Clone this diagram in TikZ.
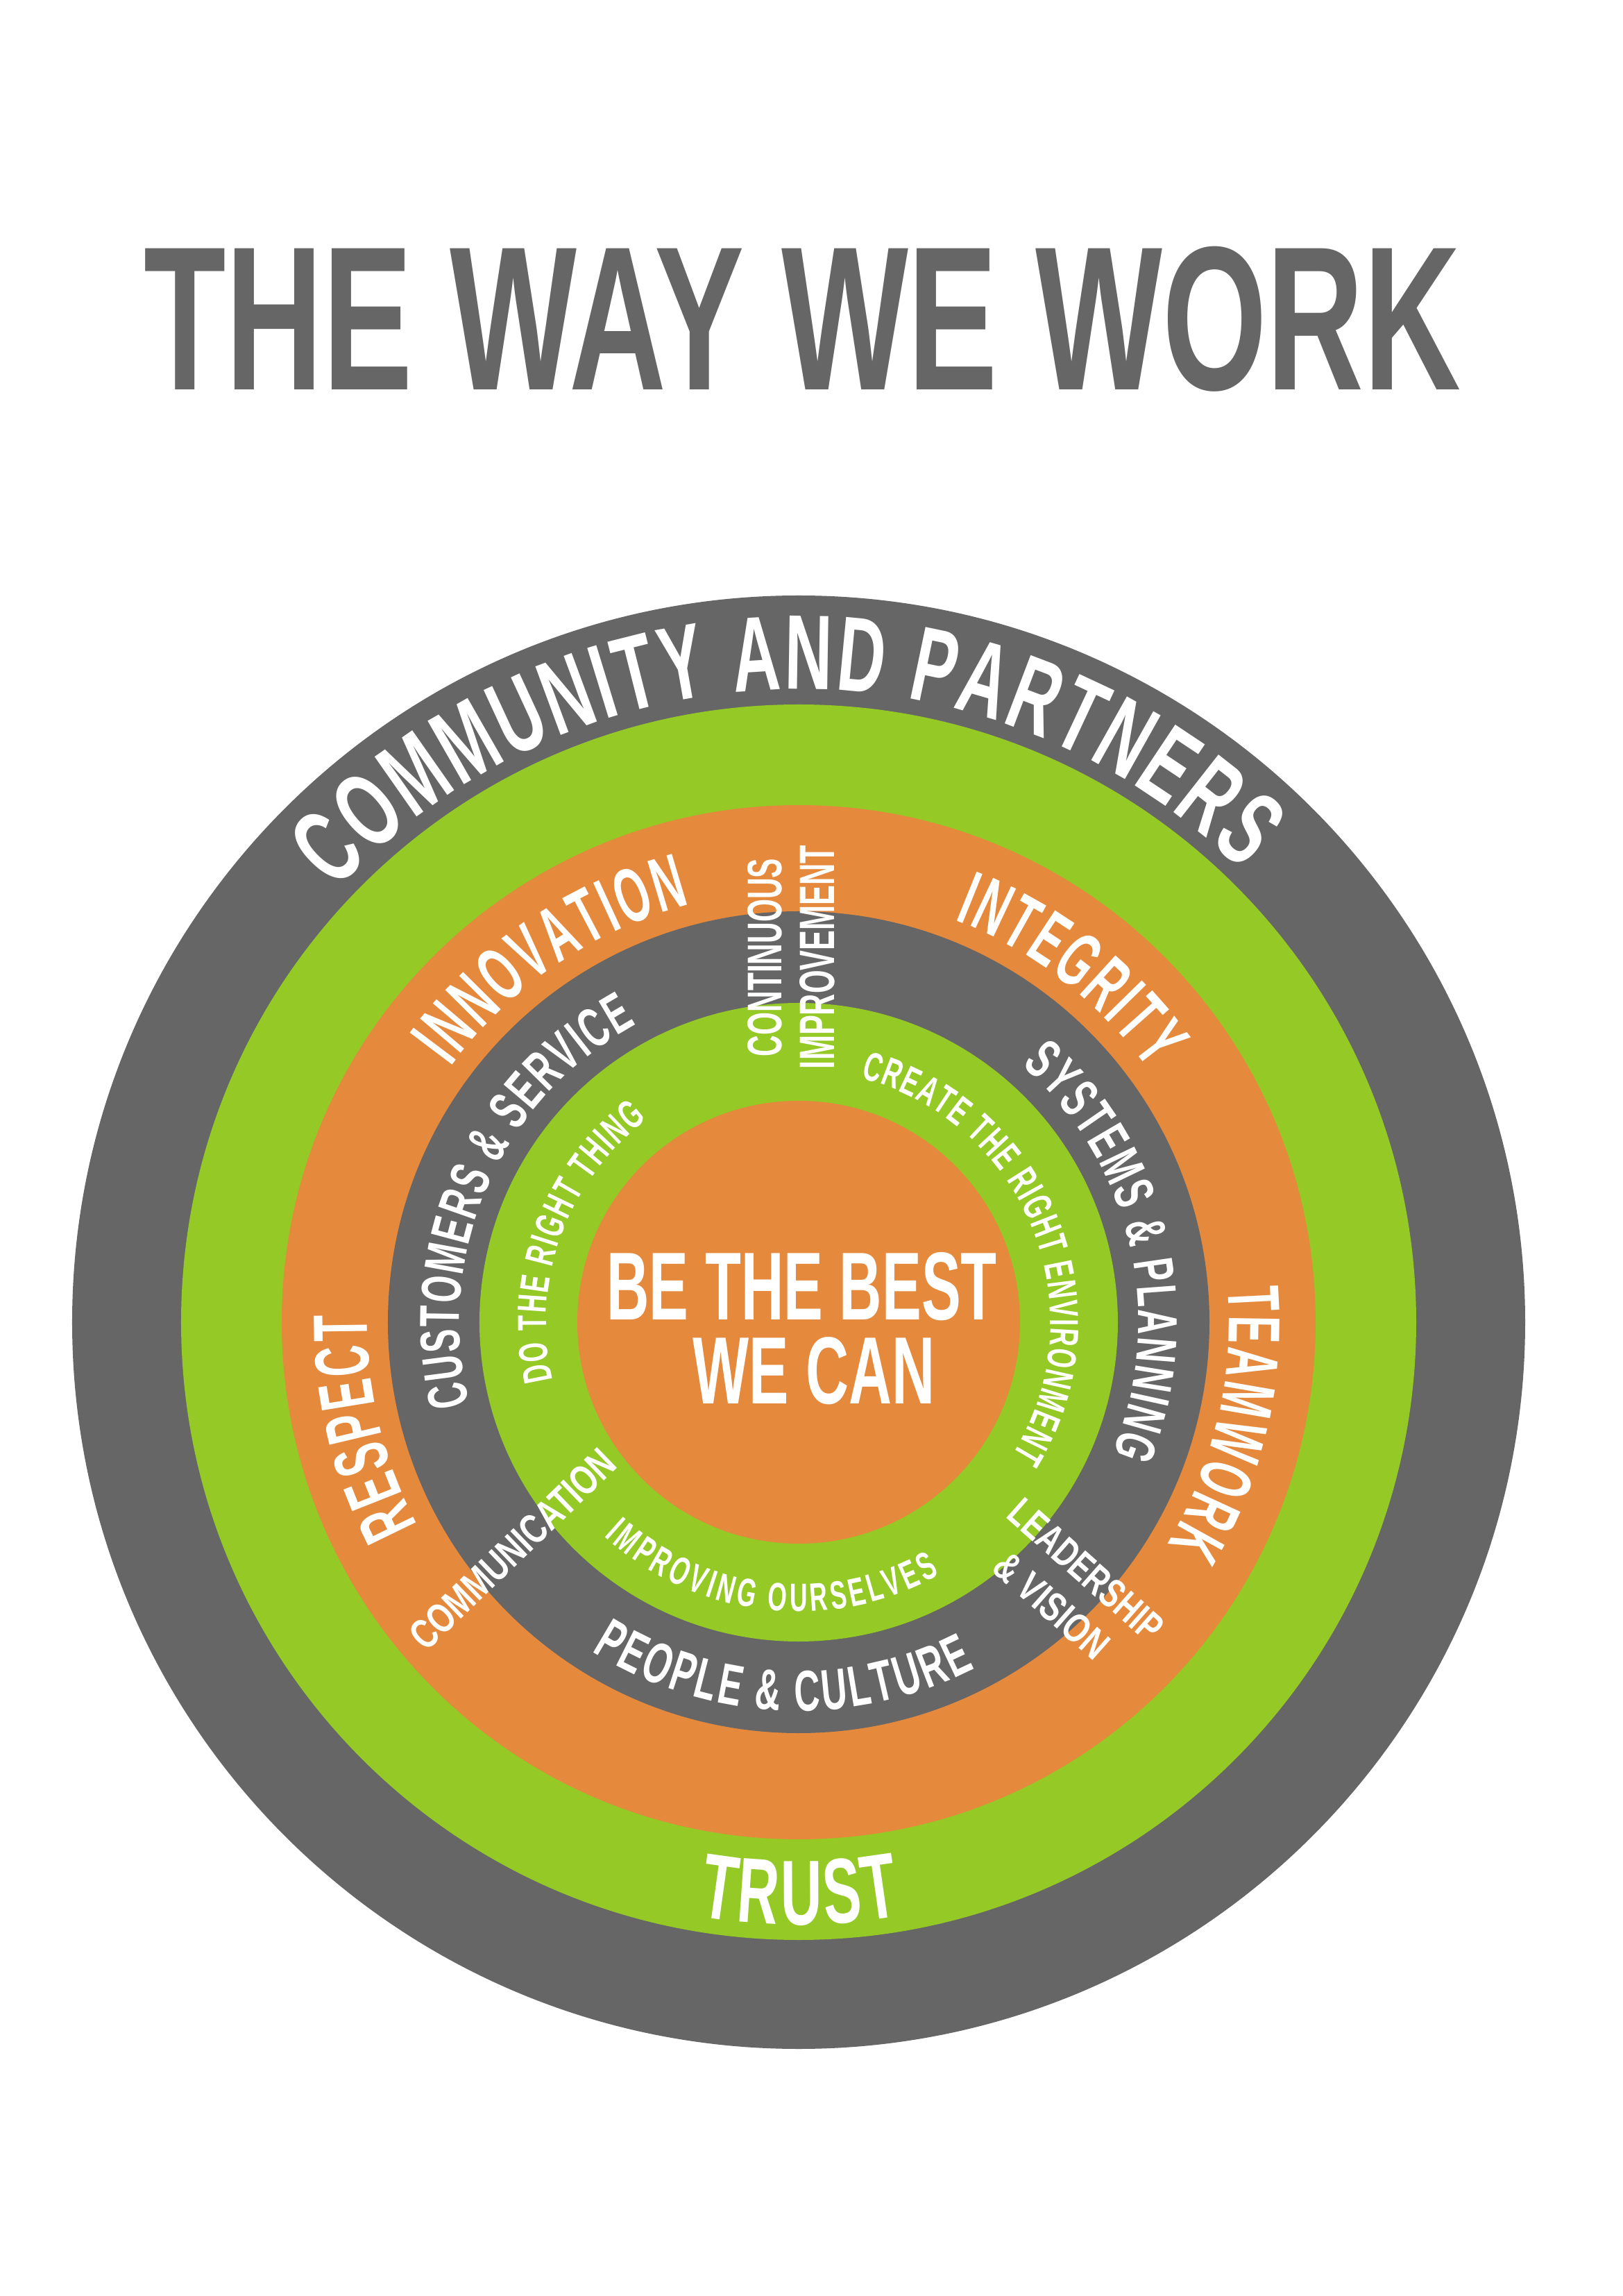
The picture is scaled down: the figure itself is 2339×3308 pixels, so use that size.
\documentclass[tikz,border=0pt]{standalone}
\usepackage{fontspec}
\usetikzlibrary{decorations.text}
\newfontfamily\cf{Liberation Sans}[FakeStretch=0.56]
\newfontfamily\cfw{Liberation Sans}[FakeStretch=0.62]
\definecolor{dgray}{HTML}{666666}
\definecolor{lgreen}{HTML}{94C926}
\definecolor{orng}{HTML}{E5893D}
\newcommand\fs[1]{\cf\bfseries\fontsize{#1}{#1}\selectfont\color{white}}
\newcommand\fw[1]{\cfw\bfseries\fontsize{#1}{#1}\selectfont\color{white}}
\begin{document}
\begin{tikzpicture}[x=1pt,y=1pt,
  ringtext/.style={decorate,decoration={text along path,text align={fit to path},text={#1}}},
  flat/.style={inner sep=0pt,outer sep=0pt,text=white}]
\useasboundingbox (-1151,-1403) rectangle (1188,1905);
\fill[white] (-1151,-1403) rectangle (1188,1905);
\coordinate (C) at (0,0);
% rings
\fill[dgray]  (C) circle[radius=1047pt];
\fill[lgreen] (C) circle[radius=890pt];
\fill[orng]   (C) circle[radius=745pt];
\fill[dgray]  (C) circle[radius=592pt];
\fill[lgreen] (C) circle[radius=460pt];
\fill[orng]   (C) circle[radius=319pt];
% title
\node[inner sep=0pt,outer sep=0pt,text=dgray] (title) at (5.5,1445)
  {\resizebox{1895pt}{206pt}{\cf\bfseries THE WAY WE WORK}};
% outer ring
\path[ringtext={|\fw{153}|COMMUNITY AND PARTNERS}]
  (137:912pt) arc[start angle=137,end angle=45.5,radius=912pt];
% green ring
\path[ringtext={|\fw{133}|TRUST}]
  (260.4:868pt) arc[start angle=260.4,end angle=279.8,radius=868pt];
% orange ring
\path[ringtext={|\fs{111}|INNOVATION}]
  (143.8:622pt) arc[start angle=143.8,end angle=104.6,radius=622pt];
\path[ringtext={|\fs{111}|INTEGRITY}]
  (68.8:622pt) arc[start angle=68.8,end angle=35.7,radius=622pt];
\path[ringtext={|\fs{106}|TEAMWORK}]
  (4.6:620pt) arc[start angle=4.6,end angle=-31,radius=620pt];
\path[ringtext={|\fs{111}|RESPECT}]
  (208:622pt) arc[start angle=208,end angle=179,radius=622pt];
% inner gray ring
\path[ringtext={|\fw{81}|CUSTOMERS {\&} SERVICE}]
  (194:489pt) arc[start angle=194,end angle=118.6,radius=489pt];
\path[ringtext={|\fw{81}|SYSTEMS {\&} PLANNING}]
  (49:490pt) arc[start angle=49,end angle=-22.6,radius=490pt];
\path[ringtext={|\fw{83}|PEOPLE {\&} CULTURE}]
  (237.8:560pt) arc[start angle=237.8,end angle=297,radius=560pt];
% inner green ring
\path[ringtext={|\fw{58.6}|DO THE RIGHT THING}]
  (193.2:364pt) arc[start angle=193.2,end angle=126.8,radius=364pt];
\path[ringtext={|\fw{58.6}|CREATE THE RIGHT ENVIRONMENT}]
  (75.7:363pt) arc[start angle=75.7,end angle=-31.9,radius=363pt];
\path[ringtext={|\fw{57}|IMPROVING OURSELVES}]
  (227.8:417pt) arc[start angle=227.8,end angle=299.2,radius=417pt];
% straight labels
\node[flat,rotate=90] (cont) at (-48.5,525.5)
  {\resizebox{285pt}{49pt}{\cf\bfseries CONTINUOUS}};
\node[flat,rotate=90] (impr) at (27,526)
  {\resizebox{322pt}{50pt}{\cf\bfseries IMPROVEMENT}};
\node[flat,rotate=44] (comm) at (-412,-327)
  {\resizebox{385pt}{42pt}{\cf\bfseries COMMUNICATION}};
\node[flat,rotate=-41.5] (lead) at (414,-356.7)
  {\resizebox{275pt}{41pt}{\cf\bfseries LEADERSHIP}};
\node[flat,rotate=-41.5] (vis) at (364.8,-408.3)
  {\resizebox{199pt}{41pt}{\cf\bfseries \& VISION}};
% centre
\node[flat] (best) at (4.6,51.5)
  {\resizebox{562pt}{97pt}{\cf\bfseries BE THE BEST}};
\node[flat] (can) at (22,-70)
  {\resizebox{348pt}{96pt}{\cf\bfseries WE CAN}};
\end{tikzpicture}
\end{document}
